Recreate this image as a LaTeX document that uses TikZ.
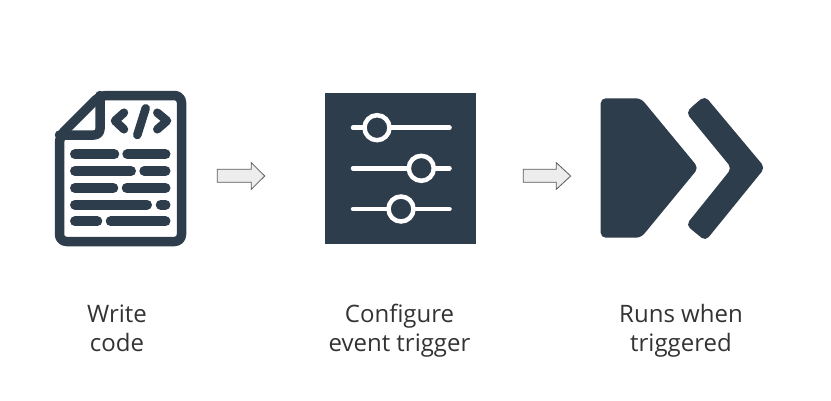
\documentclass[tikz,border=0pt]{standalone}
\usepackage{fontspec}
\setmainfont{Open Sans}
\definecolor{iconblue}{HTML}{2E3D4C}
\definecolor{labelgray}{HTML}{333333}
\tikzset{
  iconline/.style={draw=iconblue,line width=9.5pt,line join=round,line cap=round},
  rowline/.style={draw=iconblue,line width=10pt,line cap=round},
  codeline/.style={draw=iconblue,line width=8.5pt,line join=round,line cap=round},
  sliderline/.style={draw=white,line width=4.5pt,line cap=round},
  sliderknob/.style={draw=white,line width=4.5pt,fill=iconblue},
  blockarrow/.style={draw=black!65,fill=black!7,line width=.8pt,line join=miter},
  caption/.style={text=labelgray,align=center,font=\fontsize{24}{29}\selectfont,inner sep=0pt},
}
\begin{document}
\begin{tikzpicture}[x=1pt,y=-1pt]
\useasboundingbox (0,0) rectangle (831,400);
% document icon
\draw[iconline,rounded corners=7pt] (140,95.5) -- (181.5,95.5) -- (181.5,241.5) -- (59.5,241.5) -- (59.5,136) -- (100,95.5) -- cycle;
\draw[iconline,rounded corners=6pt] (100,95.5) -- (100,135) -- (59.5,135);
\foreach \yy/\aa/\bb in {154.3/119.3/122.3,171/136/139.3,188/118.3/121.7,204.7/152/155.7,221.3/102.3/105.7}{
  \draw[rowline] (75,\yy) -- (\aa-5,\yy);
  \draw[rowline] (\bb+5,\yy) -- (165.5,\yy);
}
\draw[codeline] (124,112.7) -- (115,120.8) -- (124,129.3);
\draw[codeline] (145.7,108.3) -- (137.3,135);
\draw[codeline] (157.3,112.7) -- (167,120.8) -- (157.3,129.3);
% first block arrow
\draw[blockarrow] (217.3,169.3) -- (251.3,169.3) -- (251.3,162.7) -- (264.7,176) -- (251.3,189.3) -- (251.3,182.3) -- (217.3,182.3) -- cycle;
% sliders panel
\fill[iconblue] (325.3,93) rectangle (476.3,244);
\foreach \yy/\xx in {127.7/377,168.3/421.3,209/401}{
  \draw[sliderline] (353,\yy) -- (449.5,\yy);
  \draw[sliderknob] (\xx,\yy) circle (12.5);
}
% second block arrow
\draw[blockarrow] (523.3,169.3) -- (556.3,169.3) -- (556.3,162.7) -- (570.7,176) -- (556.3,189.3) -- (556.3,182.3) -- (523.3,182.3) -- cycle;
% run icon
\fill[iconblue,rounded corners=5pt] (600.7,170) -- (600.7,98.3) -- (641,98.3) -- (698.5,167.9) -- (641,237.7) -- (600.7,237.7) -- cycle;
\fill[iconblue,rounded corners=5pt] (695,104) -- (705,96) -- (765,167.7) -- (705.5,241) -- (686,225) -- (731.7,168.2) -- (686,112.5) -- cycle;
% captions
\node[caption] (write) at (117,331.2) {\strut Write\\\strut code};
\node[caption] (configure) at (399.5,331.2) {\strut Configure\\\strut event trigger};
\node[caption] (runs) at (681,331.2) {\strut Runs when\\\strut triggered};
\end{tikzpicture}
\end{document}
